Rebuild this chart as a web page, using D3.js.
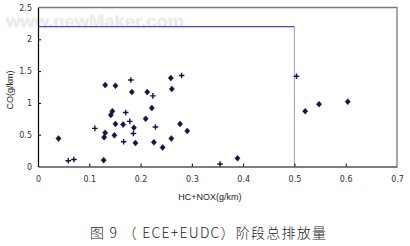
<!DOCTYPE html>
<html><head><meta charset="utf-8">
<script src="https://cdn.jsdelivr.net/npm/d3@7"></script>
<style>html,body{margin:0;padding:0;background:#fff;}svg{display:block;}</style>
</head><body>
<script>
// Data (HC+NOX g/km, CO g/km)
const diamondX = [0.131,0.151,0.183,0.213,0.259,0.261,0.222,0.145,0.142,0.210,0.151,0.166,0.187,0.277,0.291,0.131,0.129,0.149,0.190,0.226,0.260,0.243,0.040,0.128,0.521,0.548,0.604,0.389];
const diamondY = [1.28,1.27,1.17,1.17,1.39,1.22,0.92,0.87,0.81,0.75,0.67,0.66,0.61,0.67,0.56,0.53,0.46,0.49,0.37,0.38,0.44,0.30,0.44,0.10,0.87,0.98,1.02,0.13];
const crossX = [0.181,0.224,0.280,0.171,0.179,0.111,0.229,0.186,0.167,0.059,0.070,0.504,0.355];
const crossY = [1.36,1.11,1.43,0.85,0.71,0.60,0.62,0.52,0.39,0.09,0.11,1.42,0.04];
const xTicks = [0,0.1,0.2,0.3,0.4,0.5,0.6,0.7];
const yTicks = [0,0.5,1,1.5,2,2.5];
const limitX = 0.5, limitY = 2.2;
const xTitle = "HC+NOX(g/km)";
const yTitle = "CO(g/km)";
const caption = "图 9 （ ECE+EUDC）阶段总排放量";
const watermark = "www.newMaker.com";

const W = 410, H = 246;
const svg = d3.select("body").append("svg").attr("width", W).attr("height", H);
const x = d3.scaleLinear().domain([0, 0.7]).range([38, 397]);
const y = d3.scaleLinear().domain([0, 2.5]).range([166.5, 7.5]);

// watermark
svg.append("text").attr("x", 6).attr("y", 27)
  .attr("font-family", "Liberation Sans, Arial, sans-serif").attr("font-weight", "bold")
  .attr("font-size", 17).attr("textLength", 178).attr("lengthAdjust", "spacingAndGlyphs")
  .attr("fill", "#e6e6e6").attr("stroke", "#f2f2f2").attr("stroke-width", 0.8)
  .text(watermark);

// frame (top/right)
svg.append("path").attr("d", `M${x(0)},${y(2.5)}H${x(0.7)}V${y(0)}`)
  .attr("fill", "none").attr("stroke", "#7a7a7a").attr("stroke-width", 1.3);

// limit box
svg.append("line").attr("x1", x(0)).attr("x2", x(limitX)).attr("y1", y(limitY)).attr("y2", y(limitY))
  .attr("stroke", "#4a4ab0").attr("stroke-width", 1.2);
svg.append("line").attr("x1", x(limitX)).attr("x2", x(limitX)).attr("y1", y(limitY)).attr("y2", y(0))
  .attr("stroke", "#a8a8dc").attr("stroke-width", 1.2);

// axes
const fmt = d => d === 0 ? "0" : String(d);
const xAxis = svg.append("g").attr("transform", `translate(0,${y(0)})`)
  .call(d3.axisBottom(x).tickValues(xTicks).tickFormat(fmt).tickSizeInner(-3).tickSizeOuter(0).tickPadding(10));
const yAxis = svg.append("g").attr("transform", `translate(${x(0)},0)`)
  .call(d3.axisLeft(y).tickValues(yTicks).tickFormat(fmt).tickSizeInner(-3).tickSizeOuter(0).tickPadding(6));
[xAxis, yAxis].forEach(g => {
  g.select(".domain").attr("stroke", "#000").attr("stroke-width", 1.2);
  g.selectAll(".tick line").attr("stroke", "#000");
  g.selectAll(".tick text").attr("fill", "#333").attr("font-size", 8)
    .attr("font-family", "DejaVu Sans, sans-serif");
});
xAxis.selectAll(".tick").filter(d => d === 0 || d === 0.7).select("line").remove();
yAxis.selectAll(".tick").filter(d => d === 0 || d === 2.5).select("line").remove();

// markers
const col = "#14144a";
svg.append("g").selectAll("path").data(d3.zip(diamondX, diamondY)).join("path")
  .attr("d", "M0,-3L2.6,0L0,3L-2.6,0Z")
  .attr("transform", d => `translate(${x(d[0])},${y(d[1])})`)
  .attr("fill", col).attr("stroke", col).attr("stroke-width", 0.5);
svg.append("g").selectAll("path").data(d3.zip(crossX, crossY)).join("path")
  .attr("d", "M-2.8,0H2.8M0,-2.8V2.8")
  .attr("transform", d => `translate(${x(d[0])},${y(d[1])})`)
  .attr("fill", "none").attr("stroke", col).attr("stroke-width", 1.4);

// titles
svg.append("text").attr("x", 210).attr("y", 200).attr("text-anchor", "middle")
  .attr("font-family", "Liberation Sans, Arial, sans-serif").attr("font-size", 9).attr("fill", "#222")
  .text(xTitle);
svg.append("text").attr("transform", "translate(13,90) rotate(-90)").attr("text-anchor", "middle")
  .attr("font-family", "Liberation Sans, Arial, sans-serif").attr("font-size", 9).attr("fill", "#222")
  .text(yTitle);
svg.append("text").attr("x", 90).attr("y", 238)
  .attr("font-family", "Noto Sans CJK SC, sans-serif").attr("font-size", 14).attr("font-weight", 300)
  .attr("textLength", 236).attr("lengthAdjust", "spacing").attr("fill", "#222")
  .text(caption);
</script>
</body></html>
